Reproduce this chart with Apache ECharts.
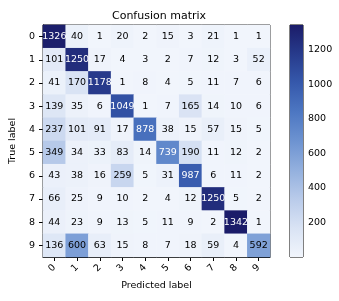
<!DOCTYPE html>
<html><head><meta charset="utf-8">
<script src="https://cdn.jsdelivr.net/npm/echarts@6/dist/echarts.min.js"></script>
<style>html,body{margin:0;padding:0;background:#fff}#c{width:339px;height:301px}</style>
</head><body><div id="c"></div>
<script>
const classes = ['0','1','2','3','4','5','6','7','8','9'];
const row0 = [1326, 40, 1, 20, 2, 15, 3, 21, 1, 1];
const row1 = [101, 1250, 17, 4, 3, 2, 7, 12, 3, 52];
const row2 = [41, 170, 1178, 1, 8, 4, 5, 11, 7, 6];
const row3 = [139, 35, 6, 1049, 1, 7, 165, 14, 10, 6];
const row4 = [237, 101, 91, 17, 878, 38, 15, 57, 15, 5];
const row5 = [349, 34, 33, 83, 14, 739, 190, 11, 12, 2];
const row6 = [43, 38, 16, 259, 5, 31, 987, 6, 11, 2];
const row7 = [66, 25, 9, 10, 2, 4, 12, 1250, 5, 2];
const row8 = [44, 23, 9, 13, 5, 11, 9, 2, 1342, 1];
const row9 = [136, 600, 63, 15, 8, 7, 18, 59, 4, 592];
const colorbarTicks = [200, 400, 600, 800, 1000, 1200];

const rows = [row0,row1,row2,row3,row4,row5,row6,row7,row8,row9];
let vmin = Infinity, vmax = -Infinity;
rows.forEach(r => r.forEach(v => { vmin = Math.min(vmin, v); vmax = Math.max(vmax, v); }));
const thresh = vmax / 2;
const cmap = ['#f1f5fc','#d9e3f4','#b9cbea','#93b0de','#6d93d1','#4d77c2','#3659ac','#273b8c','#1b1c69'];

const data = [];
rows.forEach((r, i) => r.forEach((v, j) => {
  data.push({ value: [j, i, v], label: { color: v > thresh ? '#fff' : '#000' } });
}));

const font = 'DejaVu Sans';
const chart = echarts.init(document.getElementById('c'), null, { renderer: 'canvas' });
chart.setOption({
  animation: false,
  textStyle: { fontFamily: font },
  title: { text: 'Confusion matrix', left: 154, top: 6, textAlign: 'center',
    textStyle: { fontFamily: font, fontSize: 11, fontWeight: 'normal', color: '#000' } },
  grid: [
    { left: 38, top: 25, width: 232, height: 232, show: true, borderColor: '#000', borderWidth: 1, containLabel: false },
    { left: 290, top: 25, width: 13, height: 232, show: true, borderColor: '#000', borderWidth: 1, containLabel: false }
  ],
  xAxis: [
    { type: 'category', data: classes, gridIndex: 0, position: 'bottom',
      axisLine: { show: true, lineStyle: { color: '#000' } },
      axisTick: { show: true, alignWithLabel: true, length: 4, lineStyle: { color: '#000' } },
      axisLabel: { rotate: 45, color: '#000', fontSize: 9.5, fontFamily: font, margin: 9 },
      name: 'Predicted label', nameLocation: 'middle', nameGap: 23,
      nameTextStyle: { color: '#000', fontSize: 9.5, fontFamily: font },
      splitLine: { show: false } },
    { type: 'value', gridIndex: 1, min: 0, max: 1, show: false }
  ],
  yAxis: [
    { type: 'category', data: classes, gridIndex: 0, inverse: true,
      axisLine: { show: true, lineStyle: { color: '#000' } },
      axisTick: { show: true, alignWithLabel: true, length: 4, lineStyle: { color: '#000' } },
      axisLabel: { color: '#000', fontSize: 9.5, fontFamily: font, margin: 8 },
      name: 'True label', nameLocation: 'middle', nameGap: 25, nameRotate: 90,
      nameTextStyle: { color: '#000', fontSize: 9.5, fontFamily: font },
      splitLine: { show: false } },
    { type: 'value', gridIndex: 1, min: vmin, max: vmax, position: 'right',
      axisLine: { show: false },
      axisTick: { show: true, length: 3, lineStyle: { color: '#000' }, customValues: colorbarTicks },
      axisLabel: { color: '#000', fontSize: 9.5, fontFamily: font, margin: 5, customValues: colorbarTicks,
        formatter: v => String(v) },
      splitLine: { show: false } }
  ],
  visualMap: { show: false, min: vmin, max: vmax, seriesIndex: 0, inRange: { color: cmap } },
  series: [
    { type: 'heatmap', xAxisIndex: 0, yAxisIndex: 0, data: data,
      label: { show: true, fontSize: 9.5, fontFamily: font },
      emphasis: { disabled: true } },
    { type: 'custom', xAxisIndex: 1, yAxisIndex: 1, data: [[0, vmin, 1, vmax]],
      renderItem: function (params, api) {
        const p0 = api.coord([api.value(0), api.value(1)]);
        const p1 = api.coord([api.value(2), api.value(3)]);
        return { type: 'rect',
          shape: { x: p0[0], y: p1[1], width: p1[0] - p0[0], height: p0[1] - p1[1] },
          style: { fill: new echarts.graphic.LinearGradient(0, 1, 0, 0,
            cmap.map((c, i) => ({ offset: i / (cmap.length - 1), color: c }))) } };
      } }
  ]
});
</script></body></html>
